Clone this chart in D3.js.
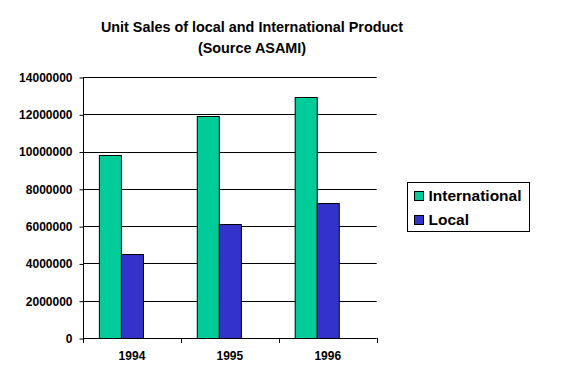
<!DOCTYPE html>
<html>
<head>
<meta charset="utf-8">
<script src="https://cdn.jsdelivr.net/npm/d3@7"></script>
<style>
  body { margin: 0; background: white; }
  text { font-family: "Liberation Sans", Arial, sans-serif; }
</style>
</head>
<body>
<div class="barChart"></div>
<script>
var width = 577;
var height = 385;
var plotLeft = 83, plotRight = 376.7, plotTop = 77, plotBottom = 338;

var years = ['1994', '1995', '1996'];
var international = [9800000, 11900000, 12950000];
var local = [4500000, 6100000, 7250000];
var yTicks = [0, 2000000, 4000000, 6000000, 8000000, 10000000, 12000000, 14000000];
var seriesNames = ['International', 'Local'];

var colorKey = {
    "International": "#00CC99",
    "Local": "#3333CC"
}

var data = years.map(function(y, i) {
    return { year: y, International: international[i], Local: local[i] };
});

var x = d3.scaleBand().domain(years).range([plotLeft, plotRight]);
// original chart reserved three bar slots per year, only two are used
var xSub = d3.scaleBand().domain([0, 1, 2]).range([0, x.bandwidth()]).paddingOuter(0.72);
var y = d3.scaleLinear().domain([0, 14000000]).range([plotBottom, plotTop]);

var svg = d3.select(".barChart")
    .append("svg")
    .attr("width", width)
    .attr("height", height)

svg.append("rect")
    .attr("width", width)
    .attr("height", height)
    .attr("fill", "white")

// title
var title = svg.append("text")
    .attr("text-anchor", "middle")
    .style("font-size", "14.4px")
    .style("font-weight", "bold")
title.append("tspan").attr("x", 252).attr("y", 32).text("Unit Sales of local and International Product");
title.append("tspan").attr("x", 252).attr("y", 53).text("(Source ASAMI)");

// gridlines
svg.append("g")
    .selectAll("line")
    .data(yTicks.slice(1))
    .enter().append("line")
    .attr("x1", plotLeft)
    .attr("x2", plotRight)
    .attr("y1", function(d) { return Math.round(y(d)) + 0.5; })
    .attr("y2", function(d) { return Math.round(y(d)) + 0.5; })
    .attr("stroke", "black")
    .attr("stroke-width", 1)

// bars
var groups = svg.append("g")
    .selectAll("g")
    .data(data)
    .enter().append("g")
    .attr("transform", function(d) { return "translate(" + x(d.year) + ",0)"; })

groups.selectAll("rect")
    .data(function(d) {
        return seriesNames.map(function(s, i) { return { key: s, idx: i, value: d[s] }; });
    })
    .enter().append("rect")
    .attr("x", function(d) { return xSub(d.idx) + 0.5; })
    .attr("y", function(d) { return Math.round(y(d.value)) + 0.5; })
    .attr("width", xSub.bandwidth())
    .attr("height", function(d) { return plotBottom - Math.round(y(d.value)); })
    .attr("fill", function(d) { return colorKey[d.key]; })
    .attr("stroke", "black")
    .attr("stroke-width", 1)

// y axis
var yAxis = d3.axisLeft(y)
    .tickValues(yTicks)
    .tickFormat(d3.format("d"))
    .tickSize(4)
    .tickPadding(7);

svg.append("g")
    .attr("class", "y axis")
    .attr("transform", "translate(" + (plotLeft + 0.5) + ",0.5)")
    .call(yAxis)
    .call(function(g) {
        g.select(".domain").attr("d", "M0," + plotTop + "V" + plotBottom);
        g.selectAll("text").style("font-size", "12px").style("font-weight", "bold").attr("fill", "black");
        g.selectAll("line").attr("stroke", "black");
    })

// x axis, tick marks sit on the band edges
var xAxis = d3.axisBottom(x).tickSize(0).tickPadding(13);

svg.append("g")
    .attr("class", "x axis")
    .attr("transform", "translate(0," + (plotBottom + 0.5) + ")")
    .call(xAxis)
    .call(function(g) {
        g.select(".domain").attr("d", "M" + plotLeft + ",0H" + plotRight).attr("stroke", "black");
        g.selectAll("text").style("font-size", "12px").style("font-weight", "bold").attr("fill", "black");
    })

svg.append("g")
    .selectAll("line")
    .data(years.map(function(d) { return x(d); }).concat([plotRight]))
    .enter().append("line")
    .attr("x1", function(d) { return Math.round(d) + 0.5; })
    .attr("x2", function(d) { return Math.round(d) + 0.5; })
    .attr("y1", plotBottom)
    .attr("y2", plotBottom + 5)
    .attr("stroke", "black")

// legend
var legend = svg.append("g").attr("transform", "translate(407.5,182.5)");
legend.append("rect")
    .attr("width", 122)
    .attr("height", 49)
    .attr("fill", "white")
    .attr("stroke", "black")

var items = legend.selectAll(".item")
    .data(seriesNames)
    .enter().append("g")
    .attr("transform", function(d, i) { return "translate(7," + (9 + i * 24) + ")"; })

items.append("rect")
    .attr("width", 9)
    .attr("height", 9)
    .attr("fill", function(d) { return colorKey[d]; })
    .attr("stroke", "black")

items.append("text")
    .attr("x", 14)
    .attr("y", 9)
    .style("font-size", "15.5px")
    .style("font-weight", "bold")
    .text(function(d) { return d; })
</script>
</body>
</html>
